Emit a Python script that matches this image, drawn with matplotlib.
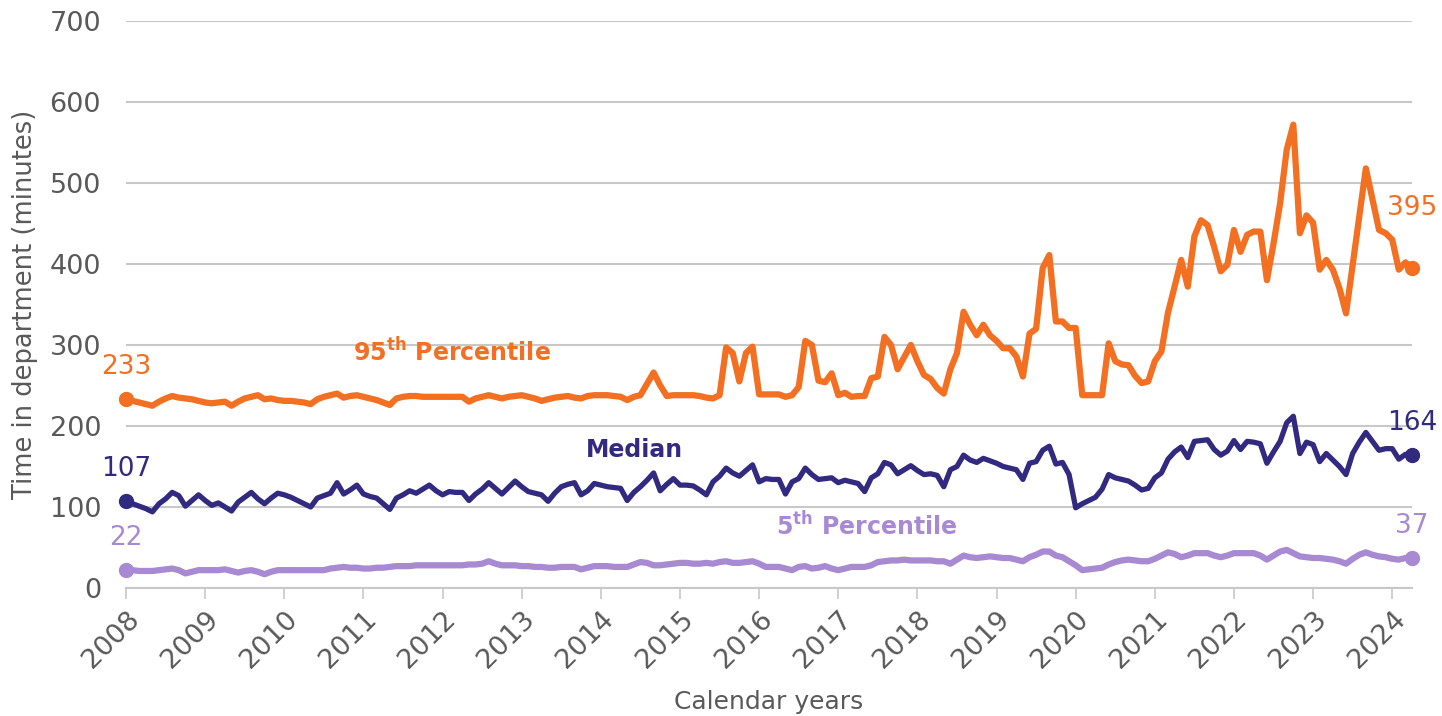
import numpy as np
import matplotlib.pyplot as plt

# monthly values, Jan 2008 .. Apr 2024 (minutes)
p95 = [233, 231, 229, 227, 225, 230, 234, 237, 235, 234, 233, 231,
       229, 228, 229, 230, 225, 230, 234, 236, 238, 233, 234, 232,
       231, 231, 230, 229, 227, 233, 236, 238, 240, 235, 237, 238,
       236, 234, 232, 229, 226, 234, 236, 237, 237, 236, 236, 236,
       236, 236, 236, 236, 230, 234, 236, 238, 236, 234, 236, 237,
       238, 236, 234, 231, 233, 235, 236, 237, 235, 234, 237, 238,
       238, 238, 237, 236, 232, 236, 238, 252, 266, 250, 237, 238,
       238, 238, 238, 237, 235, 234, 238, 297, 290, 255, 290, 298,
       239, 239, 239, 239, 236, 238, 248, 305, 300, 256, 254, 265,
       238, 241, 236, 237, 237, 259, 261, 310, 300, 270, 285, 300,
       280, 263, 258, 247, 240, 270, 290, 341, 325, 312, 325, 312,
       305, 296, 296, 286, 261, 314, 320, 395, 411, 329, 329, 321,
       321, 238, 238, 238, 238, 302, 280, 276, 275, 262, 253, 255,
       280, 292, 340, 372, 405, 372, 434, 454, 448, 421, 391, 399,
       442, 415, 436, 440, 440, 380, 425, 475, 541, 572, 438, 460,
       451, 393, 405, 393, 370, 339, 399, 458, 518, 480, 442, 438,
       430, 393, 402, 395]

median = [107, 104, 101, 98, 94, 104, 110, 118, 114, 101, 108, 115,
          108, 102, 105, 100, 95, 106, 112, 118, 110, 104, 111, 117,
          115, 112, 108, 104, 100, 111, 114, 117, 130, 116, 121, 127,
          116, 113, 111, 104, 97, 111, 115, 120, 117, 122, 127, 120,
          115, 119, 118, 118, 108, 116, 122, 130, 123, 116, 124, 132,
          125, 119, 117, 115, 107, 117, 125, 128, 130, 115, 120, 129,
          127, 125, 124, 123, 108, 118, 125, 133, 142, 120, 128, 135,
          127, 127, 126, 121, 115, 131, 138, 148, 142, 138, 145, 152,
          131, 135, 134, 134, 116, 131, 135, 148, 140, 134, 135, 136,
          130, 133, 131, 129, 119, 136, 141, 155, 152, 141, 146, 151,
          145, 140, 141, 139, 125, 146, 150, 164, 158, 155, 160, 157,
          154, 150, 148, 146, 134, 154, 156, 170, 175, 153, 155, 140,
          99, 104, 108, 112, 122, 140, 136, 134, 132, 127, 121, 123,
          136, 142, 159, 168, 174, 161, 181, 182, 183, 171, 164, 169,
          182, 171, 181, 180, 178, 154, 168, 181, 204, 212, 166, 180,
          177, 156, 166, 158, 150, 140, 166, 180, 192, 181, 170, 172,
          172, 159, 165, 164]

p5 = [22, 22, 21, 21, 21, 22, 23, 24, 22, 18, 20, 22,
      22, 22, 22, 23, 21, 19, 21, 22, 20, 17, 20, 22,
      22, 22, 22, 22, 22, 22, 22, 24, 25, 26, 25, 25,
      24, 24, 25, 25, 26, 27, 27, 27, 28, 28, 28, 28,
      28, 28, 28, 28, 29, 29, 30, 33, 30, 28, 28, 28,
      27, 27, 26, 26, 25, 25, 26, 26, 26, 23, 25, 27,
      27, 27, 26, 26, 26, 29, 32, 31, 28, 28, 29, 30,
      31, 31, 30, 30, 31, 30, 32, 33, 31, 31, 32, 33,
      30, 26, 26, 26, 24, 22, 26, 27, 24, 25, 27, 24,
      22, 24, 26, 26, 26, 28, 32, 33, 34, 34, 35, 34,
      34, 34, 34, 33, 33, 30, 35, 40, 38, 37, 38, 39,
      38, 37, 37, 35, 33, 38, 41, 45, 45, 40, 38, 33,
      28, 22, 23, 24, 25, 29, 32, 34, 35, 34, 33, 33,
      36, 40, 44, 42, 38, 40, 43, 43, 43, 40, 38, 40,
      43, 43, 43, 43, 40, 35, 40, 45, 47, 43, 39, 38,
      37, 37, 36, 35, 33, 30, 36, 41, 44, 41, 39, 38,
      36, 35, 37, 37]

years = list(range(2008, 2025))

c95 = '#F36F21'
cmed = '#312A80'
c5 = '#A88AD2'
grey = '#595959'

x = 2008 + np.arange(len(p95)) / 12

fig = plt.figure(figsize=(14.42, 7.16), dpi=100)
ax = fig.add_axes([0.0874, 0.1788, 0.8918, 0.7919])

for vals, col, lw in [(p95, c95, 4.5), (median, cmed, 3.8), (p5, c5, 4.5)]:
    ax.plot(x, vals, color=col, lw=lw, solid_joinstyle='round', zorder=3)
    ax.plot([x[0], x[-1]], [vals[0], vals[-1]], 'o', color=col, ms=10,
            zorder=4, clip_on=False)

# end labels
lab_font = dict(fontsize=19, ha='center', va='bottom')
ax.text(x[0], p95[0] + 24, str(p95[0]), color=c95, **lab_font)
ax.text(x[0], median[0] + 24, str(median[0]), color=cmed, **lab_font)
ax.text(x[0], p5[0] + 24, str(p5[0]), color=c5, **lab_font)
ax.text(x[-1], p95[-1] + 58, str(p95[-1]), color=c95, **lab_font)
ax.text(x[-1], median[-1] + 24, str(median[-1]), color=cmed, **lab_font)
ax.text(x[-1], p5[-1] + 24, str(p5[-1]), color=c5, **lab_font)

# series names
name_font = dict(fontsize=17, fontweight='bold', ha='center', va='center')
ax.text(2012.12, 291, r'95$^{\mathregular{th}}$ Percentile', color=c95, **name_font)
ax.text(2014.43, 170, 'Median', color=cmed, **name_font)
ax.text(2017.36, 77, r'5$^{\mathregular{th}}$ Percentile', color=c5, **name_font)

ax.set_xlim(2008, x[-1])
ax.set_ylim(0, 700)
ax.set_yticks(range(0, 701, 100))
ax.set_xticks(years)
ax.set_xticklabels([str(y) for y in years], rotation=45, ha='right',
                   va='top', rotation_mode='anchor')
ax.grid(axis='y', color='#c8c8c8', lw=1.5)
ax.set_axisbelow(True)
for s in ['top', 'right', 'left']:
    ax.spines[s].set_visible(False)
ax.spines['bottom'].set_color('#c8c8c8')
ax.spines['bottom'].set_linewidth(1.5)
ax.tick_params(axis='y', length=0, pad=18, labelsize=19.5, labelcolor=grey)
ax.tick_params(axis='x', length=8, width=1.2, color='#c8c8c8', pad=5,
               labelsize=19.5, labelcolor=grey)

ax.set_ylabel('Time in department (minutes)', fontsize=18.5, color=grey,
              labelpad=8)
ax.set_xlabel('Calendar years', fontsize=18, color=grey, labelpad=12)

fig.savefig('out.png', dpi=100)
